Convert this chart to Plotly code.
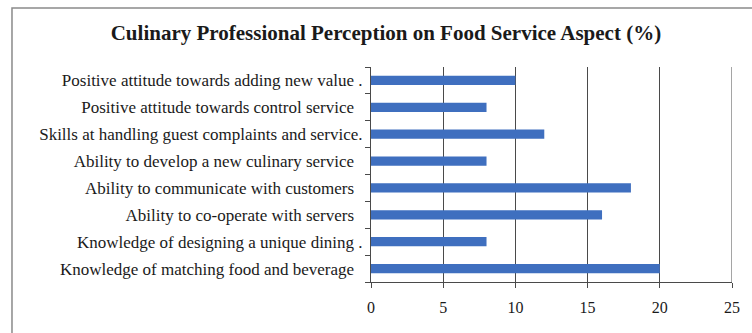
import plotly.graph_objects as go

# Survey aspects, listed bottom to top as they appear on the chart
aspects = [
    "Knowledge of matching food and beverage",
    "Knowledge of designing a unique dining .",
    "Ability to co-operate with servers",
    "Ability to communicate with customers",
    "Ability to develop a new culinary service",
    "Skills at handling guest complaints and service.",
    "Positive attitude towards control service",
    "Positive attitude towards adding new value .",
]
percent = [20, 8, 16, 18, 8, 12, 8, 10]
x_ticks = [0, 5, 10, 15, 20, 25]

W, H = 752, 333
ML, MR, MT, MB = 371, 18, 67, 51
pw, ph = W - ML - MR, H - MT - MB

def px_x(p):
    return (p - ML) / pw

def px_y(p):
    return (H - MB - p) / ph

# labels without a closing period carry a little trailing padding
shown = [a if a.endswith(".") else a + "\u00a0\u00a0" for a in aspects]

fig = go.Figure(
    go.Bar(
        x=percent,
        y=shown,
        orientation="h",
        marker=dict(color="#3F6FBF", line=dict(width=0)),
        width=0.34,
    )
)

serif = "Liberation Serif, Times New Roman, serif"
grid = "#4a4a4a"

fig.update_layout(
    width=W,
    height=H,
    margin=dict(l=ML, r=MR, t=MT, b=MB),
    paper_bgcolor="white",
    plot_bgcolor="white",
    showlegend=False,
    font=dict(family=serif, size=17, color="#1a1a1a"),
    title=dict(
        text="<b>Culinary Professional Perception on Food Service Aspect (%)</b>",
        x=px_x(386), xref="paper", xanchor="center",
        y=1 - 33 / H, yref="container", yanchor="middle",
        font=dict(family=serif, size=21, color="#1a1a1a"),
    ),
    xaxis=dict(
        range=[x_ticks[0], x_ticks[-1]],
        tickvals=x_ticks,
        ticktext=[str(v) for v in x_ticks],
        showgrid=True,
        gridcolor=grid,
        gridwidth=1,
        zeroline=False,
        showline=True,
        linecolor=grid,
        ticks="outside",
        ticklen=5,
        tickcolor=grid,
        ticklabelstandoff=6,
        tickfont=dict(family=serif, size=16),
        fixedrange=True,
    ),
    yaxis=dict(
        categoryorder="array",
        categoryarray=shown,
        showgrid=False,
        showline=True,
        linecolor=grid,
        ticks="outside",
        tickson="boundaries",
        ticklen=5,
        tickcolor=grid,
        tickfont=dict(family=serif, size=17),
        ticklabelstandoff=4,
        fixedrange=True,
    ),
    shapes=[
        # outer chart frame
        dict(
            type="rect", xref="paper", yref="paper",
            x0=px_x(10), x1=px_x(800), y0=px_y(400), y1=px_y(8),
            line=dict(color="#8a8a8a", width=1.5),
            fillcolor="rgba(0,0,0,0)", layer="below",
        ),
        # gridline at the upper end of the value axis
        dict(
            type="line", xref="x", yref="paper",
            x0=x_ticks[-1], x1=x_ticks[-1], y0=0, y1=1,
            line=dict(color=grid, width=1),
        ),
    ],
)

fig.write_html("out.html")
